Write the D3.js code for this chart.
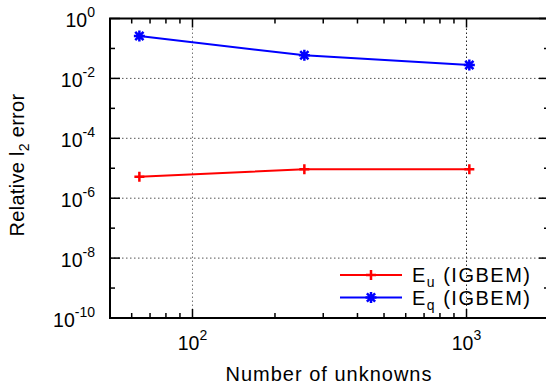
<!DOCTYPE html>
<html>
<head>
<meta charset="utf-8">
<script src="https://cdn.jsdelivr.net/npm/d3@7"></script>
<style>
  body { margin: 0; background: #fff; }
  text { font-family: "Liberation Sans", Arial, Helvetica, sans-serif; fill: #000; }
</style>
</head>
<body>
<div id="chart"></div>
<script>
const unknowns = [64, 256, 1024];
const errU = [5.2e-6, 9.2e-6, 9.2e-6];
const errQ = [0.26, 0.059, 0.028];
const seriesNames = ['u', 'q'];
const yMajorExps = [0, -2, -4, -6, -8, -10];
const xMajorExps = [2, 3];

const width = 546;
const height = 389;
const margins = { top: 18.5, bottom: 71, left: 110, right: -3 };

const svg = d3.select('#chart').append('svg')
  .attr('width', width)
  .attr('height', height);

const xScale = d3.scaleLog()
  .domain([50, 2000])
  .range([margins.left, width - margins.right]);

const yScale = d3.scaleLog()
  .domain([1e-10, 1])
  .range([height - margins.bottom, margins.top]);

const x0 = margins.left;
const x1 = width - margins.right;
const y0 = height - margins.bottom;
const y1 = margins.top;

// grid
const grid = svg.append('g').attr('class', 'grid');
xMajorExps.forEach((e) => {
  grid.append('line')
    .attr('x1', xScale(10 ** e)).attr('x2', xScale(10 ** e))
    .attr('y1', y0).attr('y2', y1)
    .style('stroke', e === 2 ? '#777' : '#222')
    .style('stroke-width', 1)
    .style('stroke-dasharray', '1.5,2.5');
});
yMajorExps.slice(1, -1).forEach((e) => {
  grid.append('line')
    .attr('x1', x0).attr('x2', x1)
    .attr('y1', yScale(10 ** e)).attr('y2', yScale(10 ** e))
    .style('stroke', '#555')
    .style('stroke-width', 1)
    .style('stroke-dasharray', '1.5,2.5');
});

// minor/major tick values
const xMinor = [];
for (let d = 1; d <= 3; d++) {
  for (let m = 2; m <= 9; m++) {
    const v = m * 10 ** d;
    if (v > 50 && v < 2000) xMinor.push(v);
  }
}
const yMinor = [-1, -3, -5, -7, -9].map((e) => 10 ** e);

const ticks = svg.append('g').attr('class', 'ticks')
  .style('stroke', '#000').style('stroke-width', 1.5);

xMinor.forEach((v) => {
  ticks.append('line').attr('x1', xScale(v)).attr('x2', xScale(v)).attr('y1', y0).attr('y2', y0 - 5);
  ticks.append('line').attr('x1', xScale(v)).attr('x2', xScale(v)).attr('y1', y1).attr('y2', y1 + 5);
});
xMajorExps.forEach((e) => {
  const v = 10 ** e;
  ticks.append('line').attr('x1', xScale(v)).attr('x2', xScale(v)).attr('y1', y0).attr('y2', y0 - 9);
  ticks.append('line').attr('x1', xScale(v)).attr('x2', xScale(v)).attr('y1', y1).attr('y2', y1 + 9);
});
yMinor.forEach((v) => {
  ticks.append('line').attr('x1', x0).attr('x2', x0 + 5).attr('y1', yScale(v)).attr('y2', yScale(v));
  ticks.append('line').attr('x1', x1).attr('x2', x1 - 5).attr('y1', yScale(v)).attr('y2', yScale(v));
});
yMajorExps.forEach((e) => {
  const v = 10 ** e;
  ticks.append('line').attr('x1', x0).attr('x2', x0 + 10).attr('y1', yScale(v)).attr('y2', yScale(v));
  ticks.append('line').attr('x1', x1).attr('x2', x1 - 10).attr('y1', yScale(v)).attr('y2', yScale(v));
});

// frame (right side falls outside the picture)
svg.append('path')
  .attr('d', `M${x1},${y1}H${x0}V${y0}H${x1}`)
  .style('fill', 'none')
  .style('stroke', '#000')
  .style('stroke-width', 2);

// y tick labels with superscripts
yMajorExps.forEach((e) => {
  const t = svg.append('text')
    .attr('x', 95)
    .attr('y', yScale(10 ** e) + 8.5)
    .attr('text-anchor', 'end')
    .style('font-size', '19.5px');
  t.append('tspan').text('10');
  t.append('tspan').attr('dy', -10).style('font-size', '14px').text(e);
});

// x tick labels
xMajorExps.forEach((e) => {
  const t = svg.append('text')
    .attr('x', xScale(10 ** e))
    .attr('y', 350)
    .attr('text-anchor', 'middle')
    .style('font-size', '19.5px');
  t.append('tspan').text('10');
  t.append('tspan').attr('dy', -10).style('font-size', '14px').text(e);
});

// axis titles
svg.append('text')
  .attr('x', 329)
  .attr('y', 381)
  .attr('text-anchor', 'middle')
  .style('font-size', '20px')
  .style('letter-spacing', '1px')
  .text('Number of unknowns');

const yTitle = svg.append('text')
  .attr('transform', 'translate(24,165) rotate(-90)')
  .attr('text-anchor', 'middle')
  .style('font-size', '20px')
  .style('letter-spacing', '0.3px');
yTitle.append('tspan').text('Relative l');
yTitle.append('tspan').attr('dy', 5).style('font-size', '14px').text('2');
yTitle.append('tspan').attr('dy', -5).text(' error');

// series
const series = [
  { key: seriesNames[0], values: errU, color: '#ff0000', marker: 'plus' },
  { key: seriesNames[1], values: errQ, color: '#0000ff', marker: 'star' },
];

const line = d3.line()
  .x((d) => xScale(d[0]))
  .y((d) => yScale(d[1]));

function drawMarker(g, type, cx, cy, color) {
  const s = type === 'plus' ? 5 : 5.5;
  let d = `M${cx - s},${cy}H${cx + s}M${cx},${cy - s}V${cy + s}`;
  if (type === 'star') {
    d += `M${cx - s * 0.75},${cy - s * 0.75}L${cx + s * 0.75},${cy + s * 0.75}` +
      `M${cx - s * 0.75},${cy + s * 0.75}L${cx + s * 0.75},${cy - s * 0.75}`;
  }
  g.append('path')
    .attr('d', d)
    .style('stroke', color)
    .style('stroke-width', 2.5)
    .style('fill', 'none');
}

const lineGroup = svg.append('g').attr('class', 'lineGroup');
series.forEach((s) => {
  const pts = unknowns.map((u, i) => [u, s.values[i]]);
  lineGroup.append('path')
    .datum(pts)
    .attr('d', line)
    .style('stroke', s.color)
    .style('stroke-width', 2)
    .style('fill', 'none');
  pts.forEach((p) => drawMarker(lineGroup, s.marker, xScale(p[0]), yScale(p[1]), s.color));
});

// legend
const legend = svg.append('g').attr('class', 'legend');
series.forEach((s, i) => {
  const ly = 275 + i * 22.5;
  legend.append('line')
    .attr('x1', 340).attr('x2', 402)
    .attr('y1', ly).attr('y2', ly)
    .style('stroke', s.color)
    .style('stroke-width', 2);
  drawMarker(legend, s.marker, 371, ly, s.color);
  const t = legend.append('text')
    .attr('x', 412)
    .attr('y', ly + 7)
    .style('font-size', '20px')
    .style('letter-spacing', '1.5px');
  t.append('tspan').text('E');
  t.append('tspan').attr('dy', 5).style('font-size', '14px').text(s.key);
  t.append('tspan').attr('dy', -5).text(' (IGBEM)');
});
</script>
</body>
</html>
